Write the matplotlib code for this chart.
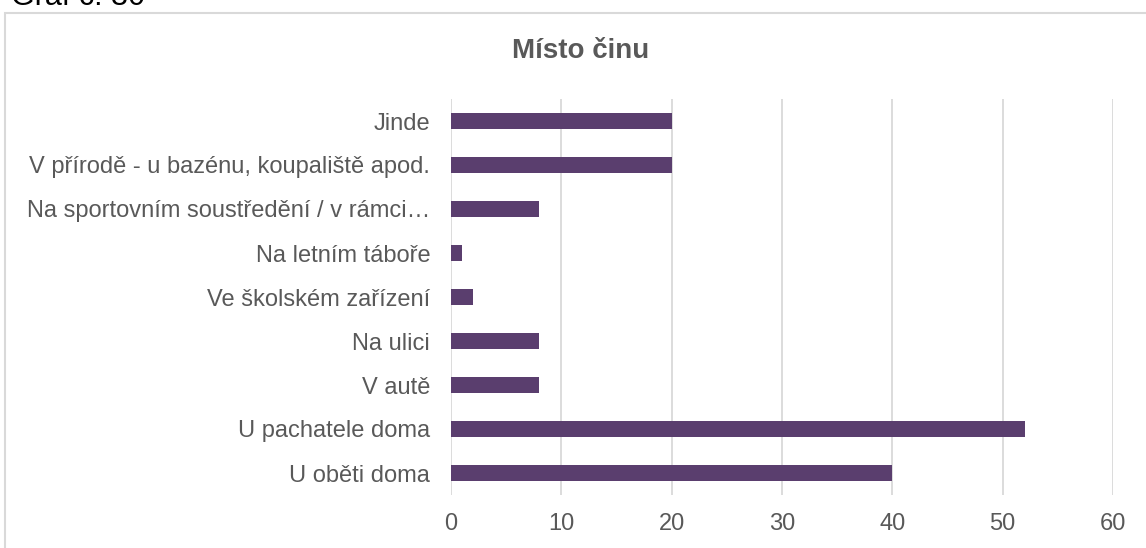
import matplotlib.pyplot as plt
from matplotlib.patches import Rectangle

# data (top to bottom as shown)
categories = [
    'Jinde',
    'V přírodě - u bazénu, koupaliště apod.',
    'Na sportovním soustředění / v rámci…',
    'Na letním táboře',
    'Ve školském zařízení',
    'Na ulici',
    'V autě',
    'U pachatele doma',
    'U oběti doma',
]
values = [20, 20, 8, 1, 2, 8, 8, 52, 40]
x_ticks = [0, 10, 20, 30, 40, 50, 60]

plt.rcParams['font.family'] = ['Liberation Sans', 'DejaVu Sans']
text_color = '#595959'
bar_color = '#5A3E6E'

W, H = 1146, 548
fig = plt.figure(figsize=(W / 100, H / 100), dpi=100)

# light grey chart frame, cut by the screenshot edges
frame = Rectangle((5 / W, -0.05), 1.1, 1 - 12.5 / H + 0.05,
                  transform=fig.transFigure, fill=False,
                  edgecolor='#D9D9D9', linewidth=1.5, clip_on=False)
fig.patches.append(frame)

# caption above the frame, mostly cut off at the top
fig.text(11 / W, 1 - 5 / H, 'Graf č. 30', fontsize=22, color='black',
         ha='left', va='baseline')

ax = fig.add_axes([451 / W, 1 - 495 / H, (1113 - 451) / W, (495 - 99) / H])

ypos = list(range(len(categories)))[::-1]
ax.barh(ypos, values, height=0.35, color=bar_color, zorder=3)

ax.set_xlim(0, 60)
ax.set_ylim(-0.5, len(categories) - 0.5)
ax.set_xticks(x_ticks)
ax.set_xticklabels([str(t) for t in x_ticks])
ax.set_yticks(ypos)
ax.set_yticklabels(categories)
ax.tick_params(axis='both', length=0, labelsize=17, colors=text_color)
ax.tick_params(axis='y', pad=15)
ax.tick_params(axis='x', pad=13)

ax.grid(axis='x', color='#D9D9D9', linewidth=1.3, zorder=0)
for s in ax.spines.values():
    s.set_visible(False)

fig.text(581 / W, 1 - 51 / H, 'Místo činu', fontsize=20, fontweight='bold',
         color=text_color, ha='center', va='center')

fig.savefig('out.png', dpi=100)
